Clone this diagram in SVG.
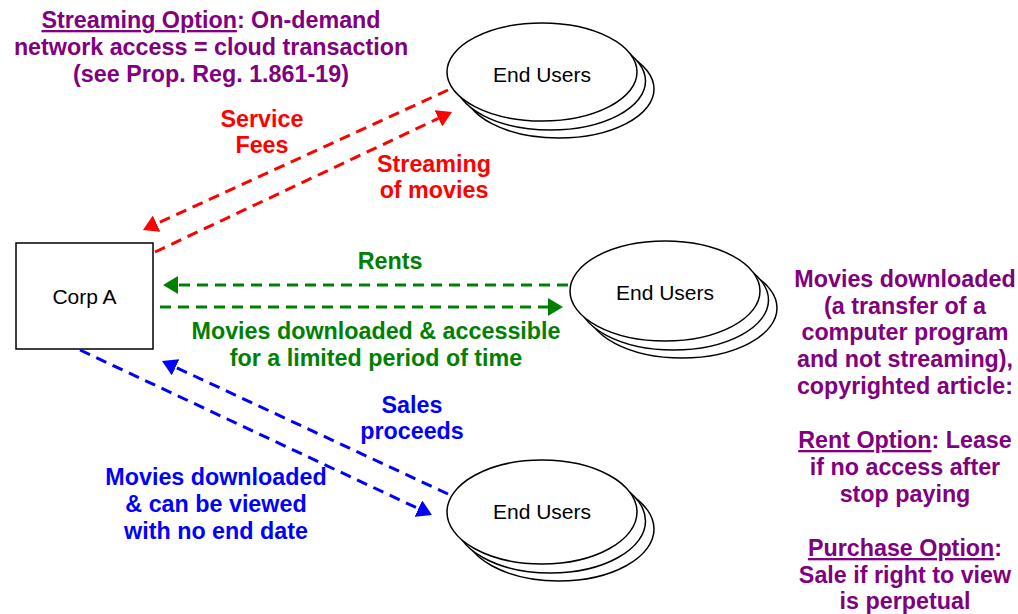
<svg xmlns="http://www.w3.org/2000/svg" width="1018" height="614" viewBox="0 0 1018 614">
  <style>
    text { font-family: "Liberation Sans", Arial, sans-serif; }
    .node { fill: #fff; stroke: #000; stroke-width: 1.5; }
    .name { font-size: 21px; fill: #000; text-anchor: middle; }
    .lbl { font-size: 23.3px; font-weight: bold; text-anchor: middle; }
    .flow { fill: none; stroke-width: 3; stroke-dasharray: 11 7; }
    .red { fill: #ff0000; }
    .green { fill: #008000; }
    .blue { fill: #0000ff; }
    .purple { fill: #800080; }
    .u { text-decoration: underline; }
  </style>
  <defs>
    <!-- arrowheads: line ends at the base, head extends 15px forward -->
    <marker id="ah-red" markerUnits="userSpaceOnUse" markerWidth="16" markerHeight="18" refX="0" refY="9" orient="auto">
      <path d="M0,0 L15,9 L0,18 z" fill="#ff0000"/>
    </marker>
    <marker id="ah-green" markerUnits="userSpaceOnUse" markerWidth="16" markerHeight="18" refX="0" refY="9" orient="auto">
      <path d="M0,0 L15,9 L0,18 z" fill="#008000"/>
    </marker>
    <marker id="ah-blue" markerUnits="userSpaceOnUse" markerWidth="16" markerHeight="18" refX="0" refY="9" orient="auto">
      <path d="M0,0 L15,9 L0,18 z" fill="#0000ff"/>
    </marker>
  </defs>

  <rect width="1018" height="614" fill="#fff"/>

  <!-- Corp A -->
  <g id="corp-a">
    <rect class="node" x="16" y="243" width="137" height="106"/>
    <text class="name" x="84.5" y="304">Corp A</text>
  </g>

  <!-- End users: streaming -->
  <g id="users-stream">
    <ellipse class="node" cx="559" cy="89" rx="95" ry="49"/>
    <ellipse class="node" cx="550.5" cy="81" rx="95" ry="49"/>
    <ellipse class="node" cx="542" cy="72" rx="95" ry="49"/>
    <text class="name" x="542" y="82">End Users</text>
  </g>

  <!-- End users: rent -->
  <g id="users-rent">
    <ellipse class="node" cx="682" cy="308" rx="95" ry="50"/>
    <ellipse class="node" cx="673.5" cy="300" rx="95" ry="50"/>
    <ellipse class="node" cx="665" cy="291" rx="95" ry="50"/>
    <text class="name" x="665" y="300">End Users</text>
  </g>

  <!-- End users: purchase -->
  <g id="users-purchase">
    <ellipse class="node" cx="559" cy="529" rx="95" ry="52"/>
    <ellipse class="node" cx="550.5" cy="521" rx="95" ry="52"/>
    <ellipse class="node" cx="542" cy="512" rx="95" ry="52"/>
    <text class="name" x="542" y="519">End Users</text>
  </g>

  <!-- connectors -->
  <g id="connectors">
    <line class="flow" x1="448" y1="90" x2="156.6" y2="223.7" stroke="#ff0000" marker-end="url(#ah-red)"/>
    <line class="flow" x1="155" y1="252" x2="438.4" y2="118.4" stroke="#ff0000" marker-end="url(#ah-red)"/>
    <line class="flow" x1="568" y1="285" x2="178" y2="285" stroke="#008000" marker-end="url(#ah-green)"/>
    <line class="flow" x1="160" y1="307" x2="548" y2="307" stroke="#008000" marker-end="url(#ah-green)"/>
    <line class="flow" x1="80" y1="350" x2="418.4" y2="508.6" stroke="#0000ff" marker-end="url(#ah-blue)"/>
    <line class="flow" x1="448" y1="494" x2="175.6" y2="367.3" stroke="#0000ff" marker-end="url(#ah-blue)"/>
  </g>

  <!-- connector labels -->
  <g id="labels">
    <text class="lbl red" x="262" y="127">Service</text>
    <text class="lbl red" x="262" y="153">Fees</text>
    <text class="lbl red" x="434" y="172">Streaming</text>
    <text class="lbl red" x="434" y="198">of movies</text>

    <text class="lbl green" x="390" y="269">Rents</text>
    <text class="lbl green" x="376" y="339">Movies downloaded &amp; accessible</text>
    <text class="lbl green" x="376" y="366">for a limited period of time</text>

    <text class="lbl blue" x="412" y="413">Sales</text>
    <text class="lbl blue" x="412" y="439">proceeds</text>
    <text class="lbl blue" x="216" y="485">Movies downloaded</text>
    <text class="lbl blue" x="216" y="512">&amp; can be viewed</text>
    <text class="lbl blue" x="216" y="539">with no end date</text>
  </g>

  <!-- notes -->
  <g id="note-streaming">
    <text class="lbl purple" x="211" y="28"><tspan class="u">Streaming Option</tspan>: On-demand</text>
    <text class="lbl purple" x="211" y="55">network access = cloud transaction</text>
    <text class="lbl purple" x="211" y="82">(see Prop. Reg. 1.861-19)</text>
  </g>

  <g id="note-download">
    <text class="lbl purple" x="905" y="287">Movies downloaded</text>
    <text class="lbl purple" x="905" y="314">(a transfer of a</text>
    <text class="lbl purple" x="905" y="340">computer program</text>
    <text class="lbl purple" x="905" y="367">and not streaming),</text>
    <text class="lbl purple" x="905" y="394">copyrighted article:</text>
    <text class="lbl purple" x="905" y="448"><tspan class="u">Rent Option</tspan>: Lease</text>
    <text class="lbl purple" x="905" y="475">if no access after</text>
    <text class="lbl purple" x="905" y="502">stop paying</text>
    <text class="lbl purple" x="905" y="556"><tspan class="u">Purchase Option</tspan>:</text>
    <text class="lbl purple" x="905" y="583">Sale if right to view</text>
    <text class="lbl purple" x="905" y="609">is perpetual</text>
  </g>
</svg>
